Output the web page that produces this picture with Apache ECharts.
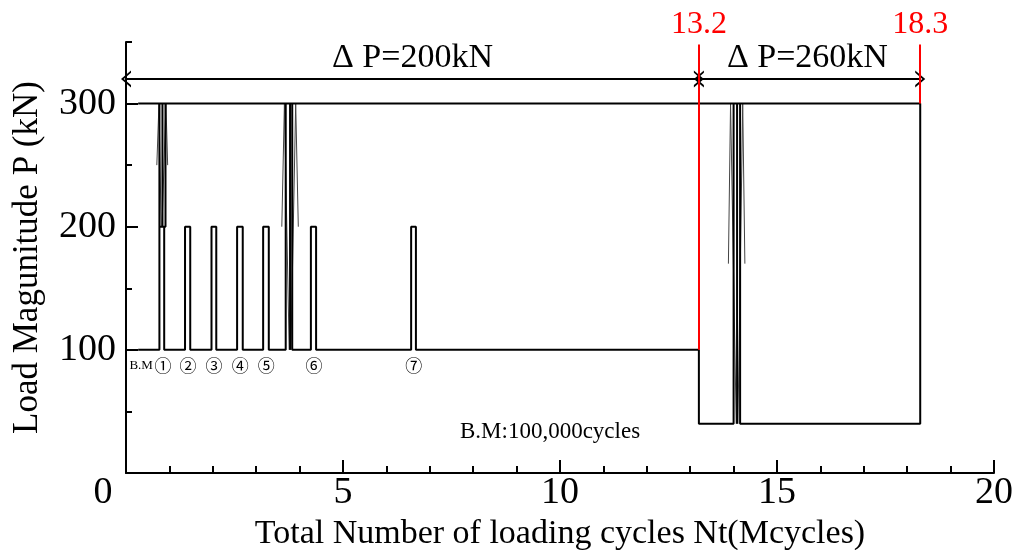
<!DOCTYPE html>
<html>
<head>
<meta charset="utf-8">
<script src="https://cdn.jsdelivr.net/npm/echarts@6/dist/echarts.min.js"></script>
<style>
  html, body { margin: 0; padding: 0; background: #fff; }
  #chart { width: 1018px; height: 550px; }
</style>
</head>
<body>
<div id="chart"></div>
<script>
// tick labels
const xTickLabels = [0, 5, 10, 15, 20];
const xMajorTicks = [5, 10, 15, 20];
const yTickLabels = [100, 200, 300];

// load history [Mcycles, kN]
const loadPath = [
  [0.28, 100], [0.77, 100], [0.77, 300], [0.91, 300], [0.91, 200], [0.77, 200], [0.88, 200], [0.88, 100],
  [1.36, 100], [1.36, 200], [1.48, 200], [1.48, 100],
  [1.97, 100], [1.97, 200], [2.08, 200], [2.08, 100],
  [2.56, 100], [2.56, 200], [2.69, 200], [2.69, 100],
  [3.16, 100], [3.16, 200], [3.29, 200], [3.29, 100],
  [3.68, 100], [3.68, 300], [3.83, 300], [3.83, 100],
  [4.26, 100], [4.26, 200], [4.38, 200], [4.38, 100],
  [6.57, 100], [6.57, 200], [6.68, 200], [6.68, 100],
  [13.2, 100], [13.2, 40],
  [14.0, 40], [14.0, 300], [14.15, 300], [14.15, 40],
  [18.3, 40], [18.3, 300], [0.28, 300]
];
// inner cycle lines inside the overload blocks
const innerLines = [
  [[0.84, 200], [0.84, 300]],
  [[3.78, 100], [3.78, 300]],
  [[14.08, 40], [14.08, 300]]
];
// thin taper lines of the overload cycles
const taperLines = [
  [[0.71, 250], [0.76, 300], [0.81, 200]],
  [[0.96, 250], [0.92, 300], [0.83, 200]],
  [[3.59, 200], [3.65, 300], [3.76, 100]],
  [[3.97, 200], [3.91, 300], [3.80, 100]],
  [[13.88, 170], [13.93, 300], [14.06, 40]],
  [[14.26, 170], [14.21, 300], [14.10, 40]]
];

// block markers under the baseline
const blockLabels = ['\u2460', '\u2461', '\u2462', '\u2463', '\u2464', '\u2465', '\u2466'];
const blockPos = [0.85, 1.43, 2.03, 2.63, 3.23, 4.33, 6.63];
const blockLabelY = 87;

// stage boundaries
const stageBounds = [13.2, 18.3];
const stageLow = [100, 300];
const stageTop = 348;
const arrowY = 320;
const stageText = ['\u0394 P=200kN', '\u0394 P=260kN'];
const stageTextPos = [[6.6, 337], [15.7, 337]];

const chevron = 'path://M0,10 L5,0 L10,10 L8.6,10 L5,2.8 L1.4,10 Z';
const serif = 'Liberation Serif';
const arrowSize = [17, 10];

const chart = echarts.init(document.getElementById('chart'));

const series = [];
series.push({
  type: 'line',
  data: loadPath,
  showSymbol: false,
  symbol: 'none',
  lineStyle: { color: '#000', width: 2 },
  z: 3,
  silent: true,
  markLine: {
    silent: true,
    animation: false,
    data: [
      [
        { coord: [0, arrowY], symbol: chevron, symbolSize: arrowSize },
        { coord: [stageBounds[0], arrowY], symbol: chevron, symbolSize: arrowSize }
      ],
      [
        { coord: [stageBounds[0], arrowY], symbol: chevron, symbolSize: arrowSize },
        { coord: [stageBounds[1], arrowY], symbol: chevron, symbolSize: arrowSize }
      ]
    ].concat(stageBounds.map((b, i) => [
      { coord: [b, stageLow[i]], symbol: 'none', lineStyle: { color: '#ff0000', width: 2, type: 'solid' } },
      {
        coord: [b, stageTop], symbol: 'none',
        label: {
          show: true, position: 'end', formatter: String(b), color: '#ff0000',
          fontFamily: serif, fontSize: 32, distance: 4
        }
      }
    ])),
    lineStyle: { color: '#000', width: 2, type: 'solid' },
    label: { show: false }
  }
});

innerLines.forEach(seg => series.push({
  type: 'line', data: seg, symbol: 'none', silent: true,
  lineStyle: { color: '#000', width: 2 }, z: 3
}));
taperLines.forEach(seg => series.push({
  type: 'line', data: seg, symbol: 'none', silent: true,
  lineStyle: { color: '#444', width: 1 }, z: 2
}));

function noteLabel(size, family) {
  return { fontSize: size, fontFamily: family || serif, color: '#000', textBorderWidth: 0 };
}
const notes = [];
blockLabels.forEach((t, i) => notes.push({
  value: [blockPos[i], blockLabelY], name: t, label: noteLabel(17, 'Noto Sans CJK JP')
}));
notes.push({ value: [0.35, blockLabelY], name: 'B.M', label: noteLabel(13) });
notes.push({ value: [9.77, 33], name: 'B.M:100,000cycles', label: noteLabel(23) });
stageText.forEach((t, i) => notes.push({ value: stageTextPos[i], name: t, label: noteLabel(34) }));

series.push({
  type: 'scatter',
  data: notes,
  symbolSize: 0,
  silent: true,
  itemStyle: { color: '#000', opacity: 1 },
  label: { show: true, position: 'inside', formatter: '{b}', color: '#000', fontFamily: serif },
  z: 5
});

const axisLineStyle = { color: '#000', width: 2 };

chart.setOption({
  animation: false,
  textStyle: { fontFamily: serif },
  grid: { left: 126, right: 24, top: 42, bottom: 77, outerBoundsMode: 'none', containLabel: false },
  xAxis: [
    {
      type: 'value', min: 0, max: 20, interval: 1,
      axisLine: { show: true, onZero: false, lineStyle: axisLineStyle },
      axisTick: { show: true, inside: true, length: 7, lineStyle: axisLineStyle },
      axisLabel: { show: false },
      splitLine: { show: false }
    },
    {
      type: 'value', min: 0, max: 20, interval: 1, position: 'bottom',
      axisLine: { show: false },
      axisTick: { show: true, inside: true, length: 13, customValues: xMajorTicks, lineStyle: axisLineStyle },
      axisLabel: {
        show: true, customValues: xTickLabels, color: '#000', fontSize: 38, margin: 1,
        formatter: v => v === 0 ? '{o|0}' : String(v),
        rich: { o: { fontSize: 38, fontFamily: serif, padding: [0, 46, 0, 0] } }
      },
      splitLine: { show: false },
      name: 'Total Number of loading cycles Nt(Mcycles)',
      nameLocation: 'middle', nameGap: 39,
      nameTextStyle: { fontSize: 34, color: '#000', fontFamily: serif }
    }
  ],
  yAxis: [
    {
      type: 'value', min: 0, max: 350, interval: 50,
      axisLine: { show: true, onZero: false, lineStyle: axisLineStyle },
      axisTick: { show: true, inside: true, length: 6, lineStyle: axisLineStyle },
      axisLabel: { show: false },
      splitLine: { show: false },
      name: 'Load Magunitude P (kN)',
      nameLocation: 'middle', nameGap: 81,
      nameTextStyle: { fontSize: 35, color: '#000', fontFamily: serif }
    },
    {
      type: 'value', min: 0, max: 350, interval: 50, position: 'left',
      axisLine: { show: false },
      axisTick: { show: true, inside: true, length: 12, customValues: yTickLabels, lineStyle: axisLineStyle },
      axisLabel: { show: true, customValues: yTickLabels, color: '#000', fontSize: 38, margin: 10 },
      splitLine: { show: false }
    }
  ],
  series: series
});
</script>
</body>
</html>
